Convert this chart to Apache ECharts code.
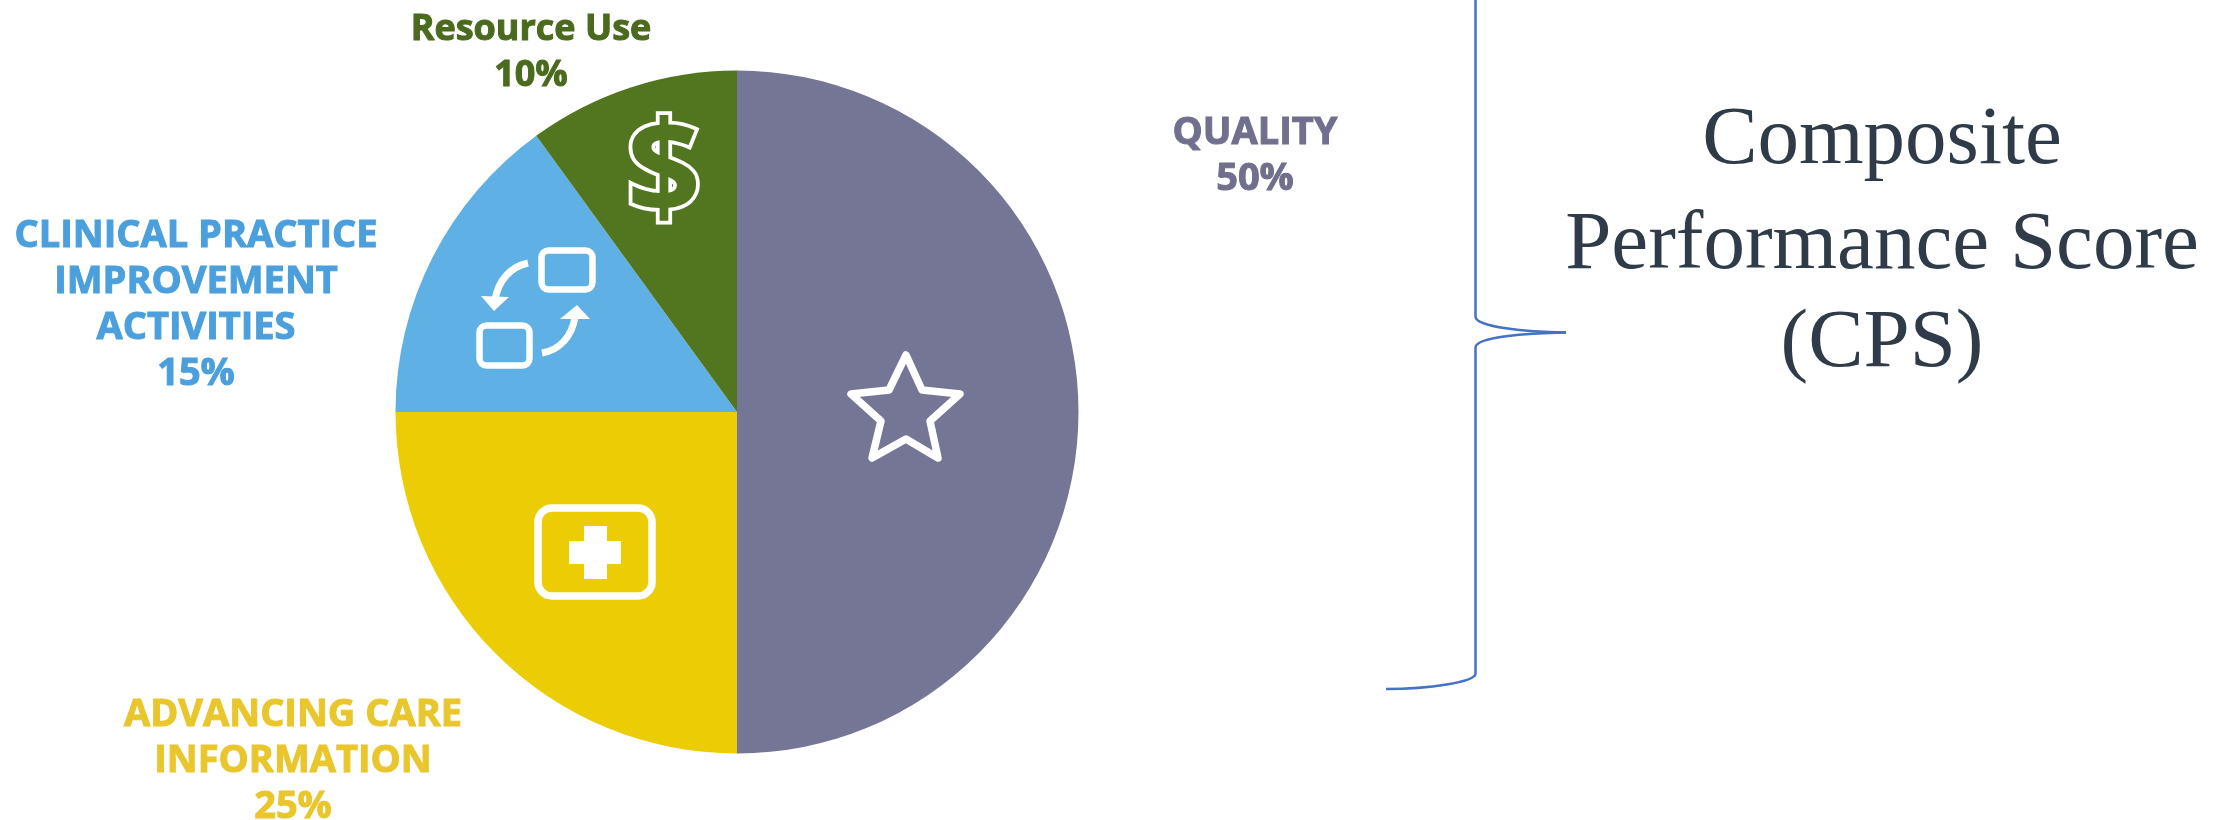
<!DOCTYPE html>
<html>
<head>
<meta charset="utf-8">
<style>html,body{margin:0;padding:0;background:#fff}#chart{width:2225px;height:820px}</style>
<script src="https://cdn.jsdelivr.net/npm/echarts@6/dist/echarts.min.js"></script>
</head>
<body>
<div id="chart"></div>
<script>
// MIPS performance categories and their weights in the composite score
const categories = ['QUALITY', 'ADVANCING CARE\nINFORMATION', 'CLINICAL PRACTICE\nIMPROVEMENT\nACTIVITIES', 'Resource Use'];
const weights = [50, 25, 15, 10];
const sliceColors = ['#757596', '#eccd05', '#5eb0e5', '#52751f'];
const labelColors = ['#70708e', '#e9c62c', '#4a9fdc', '#4a6a1e'];
const labelSizes = [38, 38, 38, 36];
const labelCentres = [[1255, 156], [293, 761], [196, 305], [531, 53]];
const titleLines = ['Composite', 'Performance Score', '(CPS)'];

const white = '#ffffff';
const braceBlue = '#4472c4';

function outline(type, shape, width, extra) {
  return { type, shape, silent: true, z: 10,
    style: Object.assign({ fill: null, stroke: white, lineWidth: width, lineJoin: 'round', lineCap: 'round' }, extra || {}) };
}
function brace(type, shape) {
  return { type, shape, silent: true, style: { fill: null, stroke: braceBlue, lineWidth: 2.5 } };
}

const icons = [
  // star on the quality slice
  outline('polygon', { points: [[906, 355], [922, 390], [960, 394], [930, 421], [938, 458], [906, 439], [872, 458], [881, 421], [851, 394], [889, 390]] }, 7.5),
  // medical card on the advancing care slice
  outline('rect', { x: 538, y: 508, width: 114, height: 88, r: 14 }, 7.5),
  { type: 'polygon', silent: true, z: 10, style: { fill: white },
    shape: { points: [[584, 526], [607, 526], [607, 541], [621, 541], [621, 564], [607, 564], [607, 579], [584, 579], [584, 564], [569, 564], [569, 541], [584, 541]] } },
  // exchange icon on the improvement slice
  outline('rect', { x: 541.5, y: 250.5, width: 51, height: 39, r: 7 }, 6.5),
  outline('rect', { x: 479.5, y: 325.5, width: 50, height: 40, r: 7 }, 6.5),
  outline('bezierCurve', { x1: 528, y1: 263, cpx1: 510, cpy1: 267, cpx2: 498, cpy2: 281, x2: 495, y2: 300 }, 7, { lineCap: 'butt' }),
  { type: 'polygon', silent: true, z: 10, style: { fill: white }, shape: { points: [[494, 311], [481, 296], [509, 297]] } },
  outline('bezierCurve', { x1: 542, y1: 353, cpx1: 560, cpy1: 350, cpx2: 572, cpy2: 336, x2: 575, y2: 317 }, 7, { lineCap: 'butt' }),
  { type: 'polygon', silent: true, z: 10, style: { fill: white }, shape: { points: [[577, 305], [590, 319], [560, 319]] } },
  // dollar sign on the resource use slice
  { type: 'text', silent: true, z: 10, x: 664, y: 176,
    style: { text: '$', font: '700 130px "Open Sans"', fill: '#52751f', stroke: white, lineWidth: 7.5, align: 'center', verticalAlign: 'middle' } }
];

// brace gathering the four categories into the composite score
const braceParts = [
  brace('line', { x1: 1475.5, y1: 0, x2: 1475.5, y2: 317 }),
  brace('bezierCurve', { x1: 1475.5, y1: 317, cpx1: 1477, cpy1: 327, cpx2: 1525, cpy2: 332, x2: 1566, y2: 332.5 }),
  brace('bezierCurve', { x1: 1475.5, y1: 347, cpx1: 1477, cpy1: 337, cpx2: 1525, cpy2: 333, x2: 1566, y2: 332.5 }),
  brace('line', { x1: 1475.5, y1: 347, x2: 1475.5, y2: 674 }),
  brace('bezierCurve', { x1: 1475.5, y1: 674, cpx1: 1474, cpy1: 682, cpx2: 1430, cpy2: 689, x2: 1386, y2: 689 })
];

const titleCentres = [141, 246, 344];
const titleText = titleLines.map((line, i) => ({
  type: 'text', silent: true, x: 1882, y: titleCentres[i],
  style: { text: line, font: '83px "Liberation Serif"', fill: '#2f3b49', align: 'center', verticalAlign: 'middle' }
}));

const chart = echarts.init(document.getElementById('chart'), null, { renderer: 'canvas' });
chart.setOption({
  animation: false,
  backgroundColor: '#ffffff',
  series: [{
    type: 'pie',
    silent: true,
    center: [737, 412],
    radius: [0, 341.5],
    startAngle: 90,
    clockwise: true,
    avoidLabelOverlap: false,
    labelLine: { show: false },
    label: {
      show: true,
      position: 'outside',
      fontFamily: 'Open Sans',
      fontWeight: 700,
      lineHeight: 46,
      align: 'center',
      formatter: p => p.name + '\n' + p.value + '%'
    },
    labelLayout: p => ({
      x: labelCentres[p.dataIndex][0],
      y: labelCentres[p.dataIndex][1],
      align: 'center',
      verticalAlign: 'middle'
    }),
    data: categories.map((name, i) => ({
      name,
      value: weights[i],
      itemStyle: { color: sliceColors[i] },
      label: { color: labelColors[i], fontSize: labelSizes[i], textBorderColor: labelColors[i], textBorderWidth: 1 }
    }))
  }],
  graphic: { elements: icons.concat(braceParts, titleText) }
});
</script>
</body>
</html>
